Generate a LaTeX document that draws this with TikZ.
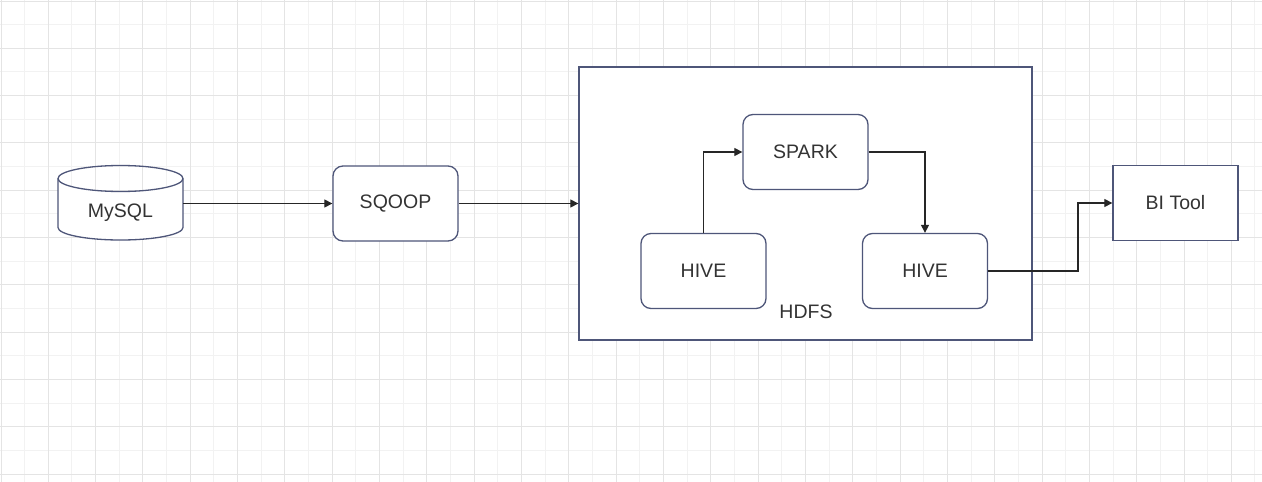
\documentclass[tikz,border=0pt]{standalone}
\usepackage{fontspec}
\setmainfont{Liberation Sans}
\usetikzlibrary{arrows.meta}
\definecolor{boxline}{HTML}{4E5679}
\definecolor{txt}{HTML}{333333}
\definecolor{gridmaj}{HTML}{E4E4E4}
\definecolor{gridmin}{HTML}{F2F2F2}
\tikzset{
  box/.style={draw=boxline, line width=1.3pt, fill=white, minimum width=125pt, minimum height=75pt, inner sep=0pt, text=txt, font=\fontsize{19.5}{22}\selectfont},
  rbox/.style={box, rounded corners=10pt},
  plain/.style={inner sep=0pt, minimum width=125pt, minimum height=74pt, text=txt, font=\fontsize{19.5}{22}\selectfont},
  conn/.style={draw=black!85, line width=1.2pt, -{Triangle[length=8pt,width=8pt]}},
  gmaj/.style={draw=gridmaj, line width=1pt},
  gmin/.style={draw=gridmin, line width=1pt}
}
\begin{document}
\begin{tikzpicture}[x=1pt,y=-1pt]
\useasboundingbox (0,0) rectangle (1262,482);
\fill[white] (0,0) rectangle (1262,482);
% grid
\foreach \k in {0,...,26} {
  \draw[gmin] ({1+47.32*\k+23.66},0) -- ({1+47.32*\k+23.66},482);
}
\foreach \k in {0,...,10} {
  \draw[gmin] (0,{1+47.32*\k+23.66}) -- (1262,{1+47.32*\k+23.66});
}
\foreach \k in {0,...,26} {
  \draw[gmaj] ({1+47.32*\k},0) -- ({1+47.32*\k},482);
}
\foreach \k in {0,...,10} {
  \draw[gmaj] (0,{1+47.32*\k}) -- (1262,{1+47.32*\k});
}
% HDFS container
\node[draw=boxline, line width=1.3pt, fill=white, minimum width=453pt, minimum height=273pt, inner sep=0pt] (hdfs) at (805.5,203.5) {};
\node[text=txt, font=\fontsize{19.5}{22}\selectfont, inner sep=0pt] (hdfslabel) at (806,312) {HDFS};
% MySQL cylinder
\fill[white] (58,178.5) arc[start angle=180, end angle=360, x radius=62.5, y radius=-13] -- (183,227.5)
  arc[start angle=0, end angle=-180, x radius=62.5, y radius=-12.5] -- cycle;
\draw[boxline, line width=1.3pt] (120.5,178.5) ellipse [x radius=62.5, y radius=13];
\draw[boxline, line width=1.3pt] (58,178.5) -- (58,227.5)
  arc[start angle=180, end angle=0, x radius=62.5, y radius=12.5] -- (183,178.5);
\node[plain] (mysql) at (120.5,203.5) {};
\node[text=txt, font=\fontsize{19.5}{22}\selectfont, inner sep=0pt] (mysqltext) at (120.5,213) {MySQL};
% boxes
\node[rbox] (sqoop) at (395.5,203.5) {SQOOP};
\node[rbox] (spark) at (805.5,152) {SPARK};
\node[rbox] (hivel) at (703.5,271) {HIVE};
\node[rbox] (hiver) at (925,271) {HIVE};
\node[box] (bi) at (1175.5,203) {BI Tool};
% connectors
\draw[conn] (mysql.east) -- (sqoop.west);
\draw[conn] (sqoop.east) -- (sqoop.east -| hdfs.west);
\draw[conn] (hivel.north) |- (spark.west);
\draw[conn] (spark.east) -| (hiver.north);
\coordinate (bend) at (1078,271);
\draw[conn] (hiver.east) -- (bend) |- (bi.west);
\end{tikzpicture}
\end{document}
